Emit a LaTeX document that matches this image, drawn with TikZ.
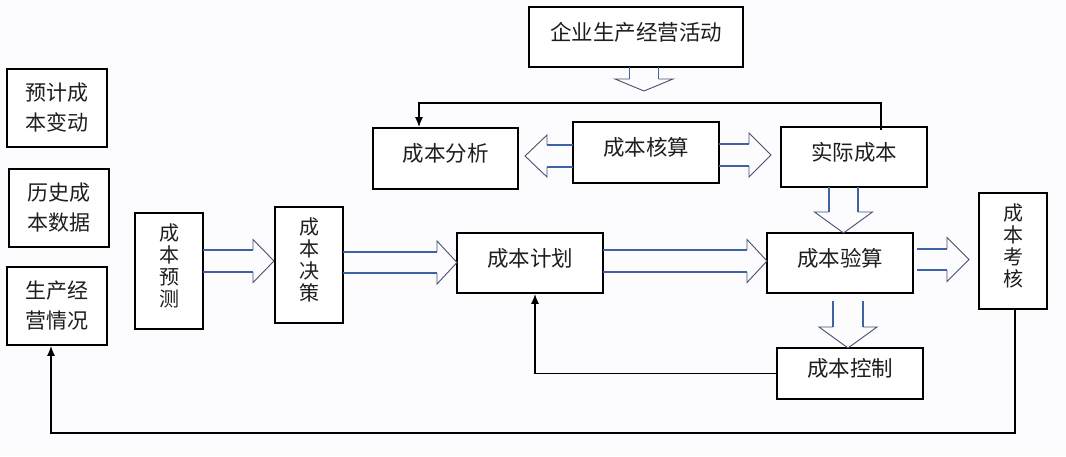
\documentclass[tikz,border=0pt]{standalone}
\usepackage{fontspec}
\newfontfamily\cjk{Noto Sans CJK SC}
\usetikzlibrary{arrows.meta,calc}
\definecolor{bg}{RGB}{252,252,254}
\definecolor{blkc}{RGB}{60,100,165}
\definecolor{headc}{RGB}{70,80,110}
\definecolor{txt}{RGB}{30,30,30}
\newcommand\hblk[6]{%
  \draw[blk] (#1,{#4-#5}) -- (#2,{#4-#5}) (#2,{#4+#5}) -- (#1,{#4+#5});
  \draw[blkh] (#2,{#4-#5}) -- (#2,{#4-#6}) -- (#3,#4) -- (#2,{#4+#6}) -- (#2,{#4+#5});}
\newcommand\vblk[6]{%
  \draw[blk] ({#4-#5},#1) -- ({#4-#5},#2) ({#4+#5},#2) -- ({#4+#5},#1);
  \draw[blkh] ({#4-#5},#2) -- ({#4-#6},#2) -- (#4,#3) -- ({#4+#6},#2) -- ({#4+#5},#2);}
\begin{document}
\begin{tikzpicture}[x=1pt,y=-1pt,
  bx/.style={draw=black, line width=1.6pt, inner sep=0pt, fill=white},
  tx/.style={yshift=5pt, text=txt, font=\cjk\fontsize{21.5}{24}\selectfont, align=center},
  vt/.style={yshift=5pt, text=txt, font=\cjk\fontsize{20}{22}\selectfont, align=center},
  lt/.style={text=txt, font=\cjk\fontsize{21}{30}\selectfont, align=center},
  blk/.style={draw=blkc, line width=1.6pt},
  blkh/.style={draw=headc, line width=0.9pt, line join=miter},
  conn/.style={draw=black, line width=1.6pt, -{Latex[length=10pt,width=8pt]}}]
\fill[bg] (0,0) rectangle (1066,456);
\useasboundingbox (0,0) rectangle (1066,456);
% left boxes
\node[bx, minimum width=100pt, minimum height=78pt, label={[lt]center:预计成\\本变动}] (n1) at (57,108) {};
\node[bx, minimum width=100pt, minimum height=78pt, label={[lt]center:历史成\\本数据}] (n2) at (59,208) {};
\node[bx, minimum width=100pt, minimum height=78pt, label={[lt]center:生产经\\营情况}] (n3) at (57,306) {};
% vertical boxes
\node[bx, minimum width=68pt, minimum height=116pt, label={[vt]center:成\\本\\预\\测}] (yc) at (169,271) {};
\node[bx, minimum width=68pt, minimum height=116pt, label={[vt]center:成\\本\\决\\策}] (jc) at (309,265) {};
\node[bx, minimum width=68pt, minimum height=116pt, label={[vt]center:成\\本\\考\\核}] (kh) at (1013,251) {};
% horizontal boxes
\node[bx, minimum width=214pt, minimum height=60pt, label={[tx]center:企业生产经营活动}] (qy) at (636,37) {};
\node[bx, minimum width=145pt, minimum height=61pt, label={[tx]center:成本分析}] (fx) at (445.5,158.5) {};
\node[bx, minimum width=146pt, minimum height=61pt, label={[tx]center:成本核算}] (hs) at (646,152.5) {};
\node[bx, minimum width=146pt, minimum height=60pt, label={[tx]center:实际成本}] (sj) at (854,157) {};
\node[bx, minimum width=146pt, minimum height=60pt, label={[tx]center:成本计划}] (jh) at (530,263) {};
\node[bx, minimum width=146pt, minimum height=60pt, label={[tx]center:成本验算}] (ys) at (840,263) {};
\node[bx, minimum width=146pt, minimum height=51pt, label={[tx]center:成本控制}] (kz) at (850,373.5) {};
% block arrows
\vblk{67}{79}{91}{644}{14.5}{29}
\hblk{573}{547}{525}{156}{11}{21}
\hblk{719}{749}{771}{155}{11}{22}
\vblk{187}{212}{233}{843.5}{14.5}{29}
\hblk{203}{253}{274}{261}{11}{21.5}
\hblk{343}{437}{457}{262.5}{10.5}{21.5}
\hblk{603}{747}{767}{261}{11}{21.5}
\hblk{917}{947}{969}{259.5}{10.5}{22}
\vblk{301}{327}{348}{848}{15}{29}
% connectors
\draw[conn] ([xshift=27pt,yshift=-4pt]sj.north) -- ++(0,-27) -| ([xshift=-26.5pt]fx.north);
\draw[conn] (kz.west) -| ([xshift=5pt]jh.south);
\draw[conn] ([xshift=2pt]kh.south) -- ++(0,123) -| ([xshift=-6pt]n3.south);
\end{tikzpicture}
\end{document}
